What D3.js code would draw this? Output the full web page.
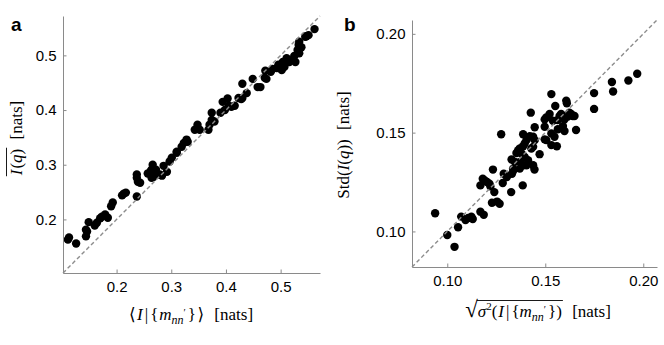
<!DOCTYPE html>
<html>
<head>
<meta charset="utf-8">
<script src="https://cdn.jsdelivr.net/npm/d3@7"></script>
<style>
body { margin: 0; background: #fff; }
svg { display: block; }
</style>
</head>
<body>
<svg id="chart" width="664" height="345"></svg>
<script>
// panel a: <I|{m}> (x) vs mean I(q) (y), in nats
var aX = [0.113,0.111,0.126,0.144,0.144,0.146,0.149,0.160,0.164,0.170,0.173,0.179,0.184,0.190,0.193,0.210,0.213,0.217,0.237,0.237,
	0.237,0.239,0.243,0.257,0.263,0.266,0.266,0.268,0.272,0.274,0.264,0.264,0.283,0.286,0.292,0.297,0.301,0.310,0.319,0.323,
	0.328,0.330,0.343,0.348,0.352,0.368,0.370,0.374,0.374,0.379,0.390,0.394,0.398,0.403,0.405,0.410,0.416,0.423,0.430,0.430,
	0.438,0.449,0.458,0.463,0.472,0.474,0.482,0.485,0.493,0.496,0.502,0.504,0.507,0.511,0.516,0.522,0.525,0.527,0.531,0.533,
	0.534,0.538,0.534,0.545,0.547,0.551,0.562,0.471,0.428,0.279,0.310];
var aY = [0.167,0.163,0.156,0.181,0.169,0.178,0.195,0.189,0.194,0.202,0.205,0.209,0.203,0.224,0.231,0.244,0.247,0.249,0.242,0.282,
	0.276,0.269,0.267,0.284,0.289,0.300,0.286,0.278,0.291,0.282,0.276,0.291,0.280,0.298,0.287,0.306,0.313,0.322,0.333,0.340,
	0.346,0.342,0.364,0.373,0.364,0.364,0.373,0.382,0.395,0.379,0.395,0.415,0.400,0.421,0.408,0.406,0.408,0.422,0.422,0.448,
	0.431,0.457,0.442,0.442,0.472,0.457,0.470,0.475,0.477,0.483,0.473,0.488,0.479,0.495,0.488,0.492,0.499,0.488,0.510,0.519,
	0.525,0.515,0.504,0.534,0.535,0.537,0.548,0.459,0.420,0.282,0.324];
var aTicks = [0.2, 0.3, 0.4, 0.5];

// panel b: sqrt(sigma^2) (x) vs Std(I(q)) (y)
var bX = [0.0938,0.1000,0.1037,0.1055,0.1071,0.1093,0.1107,0.1123,0.1130,0.1169,0.1186,0.1228,0.1254,0.1267,0.1326,0.1385,0.1169,0.1181,0.1191,0.1203,
	0.1215,0.1220,0.1240,0.1233,0.1283,0.1288,0.1304,0.1330,0.1338,0.1275,0.1969,0.1924,0.1840,0.1846,0.1749,0.1749,0.1657,0.1531,0.1607,0.1610,
	0.1551,0.1623,0.1632,0.1640,0.1649,0.1615,0.1598,0.1573,0.1581,0.1426,0.1522,0.1505,0.1497,0.1539,0.1564,0.1446,0.1497,0.1564,0.1590,0.1598,
	0.1531,0.1547,0.1387,0.1421,0.1438,0.1446,0.1497,0.1505,0.1531,0.1559,0.1471,0.1404,0.1395,0.1387,0.1438,0.1429,0.1370,0.1362,0.1353,0.1379,
	0.1395,0.1412,0.1328,0.1345,0.1370,0.1387,0.1404,0.1438,0.1336,0.1370,0.1445];
var bY = [0.1092,0.0982,0.0922,0.1021,0.1075,0.1058,0.1068,0.1075,0.1063,0.1100,0.1084,0.1145,0.1151,0.1140,0.1199,0.1233,0.1233,0.1267,0.1258,0.1250,
	0.1242,0.1228,0.1199,0.1313,0.1245,0.1292,0.1275,0.1292,0.1309,0.1492,0.1798,0.1764,0.1756,0.1708,0.1700,0.1620,0.1513,0.1695,0.1662,0.1649,
	0.1635,0.1601,0.1594,0.1584,0.1584,0.1581,0.1567,0.1584,0.1594,0.1601,0.1594,0.1577,0.1567,0.1560,0.1564,0.1527,0.1530,0.1517,0.1533,0.1508,
	0.1496,0.1479,0.1492,0.1482,0.1479,0.1462,0.1466,0.1462,0.1437,0.1431,0.1391,0.1462,0.1445,0.1431,0.1428,0.1420,0.1420,0.1411,0.1397,0.1394,
	0.1377,0.1360,0.1364,0.1352,0.1352,0.1335,0.1335,0.1335,0.1318,0.1318,0.1313];
var bTicks = [0.10, 0.15, 0.20];

var svg = d3.select("#chart");
var axisGray = "#8a8a8a";
var serif = "'Liberation Serif', 'DejaVu Serif', serif";

// draws one scatter panel; x and y share the same domain
function panel(xs, ys, ticks, fmt, domain, left, right, bottom, top) {
	var x = d3.scaleLinear().domain(domain).range([left, right]);
	var y = d3.scaleLinear().domain(domain).range([bottom, top]);
	var g = svg.append("g");

	var pts = xs.map(function(d, i) { return [d, ys[i]]; });
	g.selectAll("circle")
		.data(pts)
		.enter().append("circle")
		.attr("cx", function(d) { return x(d[0]); })
		.attr("cy", function(d) { return y(d[1]); })
		.attr("r", 4.2)
		.attr("fill", "#000");

	// axes, ticks point inward
	var ax = g.append("g")
		.attr("transform", "translate(0," + bottom + ")")
		.call(d3.axisBottom(x).tickValues(ticks).tickFormat(d3.format(fmt)).tickSizeInner(-3.5).tickSizeOuter(0).tickPadding(8.5));
	var ay = g.append("g")
		.attr("transform", "translate(" + left + ",0)")
		.call(d3.axisLeft(y).tickValues(ticks).tickFormat(d3.format(fmt)).tickSizeInner(-3.5).tickSizeOuter(0).tickPadding(6.5));
	[ax, ay].forEach(function(a) {
		a.attr("color", axisGray)
			.attr("font-family", "'Liberation Sans', Arial, sans-serif")
			.attr("font-size", 15);
		a.selectAll("text").attr("fill", "#000");
	});

	// identity line on top of the dots
	g.append("line")
		.attr("x1", x(domain[0])).attr("y1", y(domain[0]))
		.attr("x2", x(domain[1])).attr("y2", y(domain[1]))
		.attr("stroke", "#8c8c8c")
		.attr("stroke-width", 1.4)
		.attr("stroke-dasharray", "4,2.6");
}

panel(aX, aY, aTicks, ".1f", [0.102, 0.572], 63, 320, 273, 16);
panel(bX, bY, bTicks, ".2f", [0.082, 0.207], 412, 657, 267, 20);

// build math-ish labels from pieces: [text, italic, dy, size, dx, overline]
// overline (vinculum) is drawn as a line over the flagged pieces
function label(x, y, rot, parts, barY) {
	var g = svg.append("g")
		.attr("transform", "translate(" + x + "," + y + ")" + (rot ? " rotate(-90)" : ""));
	var t = g.append("text")
		.attr("text-anchor", "middle")
		.attr("font-family", serif)
		.attr("font-size", 17)
		.attr("fill", "#000");
	var barred = [];
	parts.forEach(function(p) {
		var s = t.append("tspan").text(p[0]);
		if (p[1]) s.attr("font-style", "italic");
		if (p[2]) s.attr("dy", p[2]);
		if (p[3]) s.attr("font-size", p[3]);
		if (p[4]) s.attr("dx", p[4]);
		if (p[5]) barred.push(s.node());
	});
	if (barred.length) {
		var x0 = Infinity, x1 = -Infinity;
		barred.forEach(function(n) {
			var k = n.getNumberOfChars();
			for (var i = 0; i < k; i++) {
				x0 = Math.min(x0, n.getStartPositionOfChar(i).x);
				x1 = Math.max(x1, n.getEndPositionOfChar(i).x);
			}
		});
		g.append("line")
			.attr("x1", x0 - 1).attr("x2", x1 + 1)
			.attr("y1", barY).attr("y2", barY)
			.attr("stroke", "#000").attr("stroke-width", 0.9);
	}
	return g;
}

// panel a x label: <I|{m_nn'}> [nats]
label(191, 320, false, [
	["\u27E8", 0], ["I", 1, 0, 0, 1.5], ["|", 0, 0, 0, 2], ["{", 0, 0, 0, 2], ["m", 1, 0, 0, 1],
	["nn", 1, 4, 12], ["\u2032", 0, -8, 10], ["}", 0, 4, 0, 2], ["\u27E9", 0, 0, 0, 1.5],
	[" [nats]", 0, 0, 0, 6]
]);

// panel a y label: overline I(q) [nats]
label(22, 138, true, [
	["I", 1, 0, 0, 0, 1], ["(", 0, 0, 0, 1, 1], ["q", 1, 0, 0, 0, 1], [")", 0, 0, 0, 0, 1],
	[" [nats]", 0, 0, 0, 5]
], -15.5);

// panel b y label: Std(I(q)) [nats]
label(349, 145, true, [
	["Std(", 0], ["I", 1], ["(", 0], ["q", 1], ["))", 0], [" [nats]", 0, 0, 0, 5]
]);

// panel b x label: sqrt(sigma^2(I|{m_nn'})) [nats]
label(538, 317, false, [
	["\u221A", 0, 0, 23], ["\u03C3", 1, 0, 0, 0, 1], ["2", 0, -7, 11, 0, 1], ["(", 0, 7, 0, 0, 1],
	["I", 1, 0, 0, 1, 1], ["|", 0, 0, 0, 2, 1], ["{", 0, 0, 0, 2, 1], ["m", 1, 0, 0, 0, 1],
	["nn", 1, 4, 12, 0, 1], ["\u2032", 0, -8, 10, 0, 1], ["}", 0, 4, 0, 2, 1], [")", 0, 0, 0, 0, 1],
	[" [nats]", 0, 0, 0, 6]
], -16.5);

// panel letters
svg.append("text").attr("x", 11).attr("y", 30.5)
	.attr("font-family", "'Liberation Sans', Arial, sans-serif")
	.attr("font-weight", "bold").attr("font-size", 19).text("a");
svg.append("text").attr("x", 344).attr("y", 31)
	.attr("font-family", "'Liberation Sans', Arial, sans-serif")
	.attr("font-weight", "bold").attr("font-size", 19).text("b");
</script>
</body>
</html>
